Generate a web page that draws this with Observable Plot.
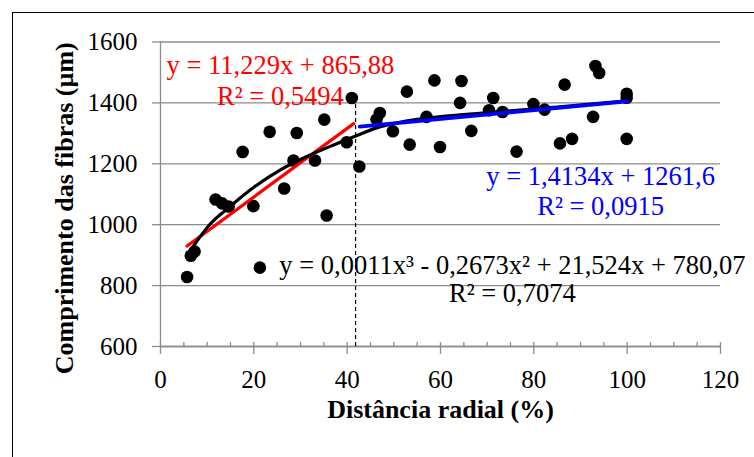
<!DOCTYPE html>
<html><head><meta charset="utf-8">
<script src="https://cdn.jsdelivr.net/npm/d3@7"></script>
<script src="https://cdn.jsdelivr.net/npm/@observablehq/plot@0.6"></script>
<style>
html,body{margin:0;padding:0;background:#fff;overflow:hidden;}
#wrap{position:relative;width:754px;height:457px;}
#wrap svg{position:absolute;left:0;top:0;font-family:"Liberation Serif","Times New Roman",serif !important;}
#wrap svg text{font-family:"Liberation Serif","Times New Roman",serif !important;}
#border{position:absolute;left:12px;top:12px;width:800px;height:500px;border:1.3px solid #000;box-sizing:border-box;pointer-events:none;}
</style></head><body><div id="wrap"><div id="border"></div></div>
<script>
// Data
const distX = [5.7, 6.5, 7.3, 11.8, 13.2, 14.6, 17.6, 19.9, 21.3, 23.4, 26.5, 28.5, 29.2, 33.1, 35.1, 35.6, 39.9, 41.0, 42.6, 46.3, 47.0, 49.8, 52.8, 53.4, 57.0, 58.7, 59.9, 64.2, 64.5, 66.6, 70.4, 71.3, 73.3, 76.3, 79.9, 82.3, 85.6, 86.6, 88.2, 92.7, 93.2, 94.0, 99.9, 99.9, 99.9];
const lenY  = [828, 898, 912, 1083, 1070, 1060, 1239, 1061, 859, 1305, 1119, 1211, 1301, 1211, 1345, 1030, 1271, 1416, 1191, 1346, 1367, 1307, 1437, 1263, 1354, 1474, 1255, 1400, 1472, 1308, 1376, 1416, 1370, 1240, 1396, 1378, 1267, 1460, 1282, 1354, 1521, 1498, 1430, 1417, 1282];

// Trend lines
const redX = [5.7, 41.4];
const redY = [930, 1332];
const blueX = [42.7, 100];
const blueY = [1322, 1405];
const polyX = [6.4, 10.7, 14.3, 20, 25.7, 31.4, 37.1, 42.9, 47.1, 55, 65, 75, 85, 100];
const polyY = [915, 1003, 1052, 1123, 1180, 1224, 1262, 1298, 1322, 1346, 1362, 1374, 1386, 1407];
const splitX = [41.8];

// Labels
const eqRed = ["y = 11,229x + 865,88", "R² = 0,5494"];
const eqBlue = ["y = 1,4134x + 1261,6", "R² = 0,0915"];
const eqPoly = ["y = 0,0011x³ - 0,2673x² + 21,524x + 780,07", "R² = 0,7074"];
const xTitle = "Distância radial (%)";
const yTitle = "Comprimento das fibras (µm)";
const xTicks = [0, 20, 40, 60, 80, 100, 120];
const xMinor = d3.range(0, 121, 5);
const yTicks = [600, 800, 1000, 1200, 1400, 1600];

const pts = distX.map((x, i) => ({x, y: lenY[i]}));
const red = redX.map((x, i) => ({x, y: redY[i]}));
const blue = blueX.map((x, i) => ({x, y: blueY[i]}));
const poly = polyX.map((x, i) => ({x, y: polyY[i]}));

const serif = "Liberation Serif";
const gray = "#8c8c8c";
const chart = Plot.plot({
  width: 754, height: 457,
  marginLeft: 160, marginRight: 34, marginTop: 41.5, marginBottom: 111,
  style: "font-family: 'Liberation Serif', serif; font-size: 25px; background: transparent; overflow: visible;",
  x: {domain: [0, 120], label: null},
  y: {domain: [600, 1600], label: null},
  marks: [
    Plot.gridY(yTicks, {stroke: gray, strokeOpacity: 1, strokeWidth: 1.3}),
    Plot.ruleX([0], {stroke: gray, strokeWidth: 1.3}),
    Plot.ruleY([600], {stroke: gray, strokeWidth: 1.3}),
    Plot.ruleX(xMinor, {x: d => d, y1: 600, y2: 613, stroke: gray, strokeWidth: 1.3}),
    Plot.axisX(xTicks, {tickSize: 8, tickPadding: 16, stroke: gray, strokeWidth: 1.3, fill: "black", fontSize: 25, fontFamily: serif, tickFormat: d => String(d), label: null}),
    Plot.axisY(yTicks, {tickSize: 8, tickPadding: 15, stroke: gray, strokeWidth: 1.3, fill: "black", fontSize: 25, fontFamily: serif, tickFormat: d => String(d), label: null}),
    Plot.dot(pts, {x: "x", y: "y", r: 6.3, fill: "black", stroke: "none"}),
    Plot.line(red, {x: "x", y: "y", stroke: "#ff0000", strokeWidth: 3.2}),
    Plot.line(poly, {x: "x", y: "y", stroke: "black", strokeWidth: 3.2, curve: "catmull-rom"}),
    Plot.line(blue, {x: "x", y: "y", stroke: "#0000ff", strokeWidth: 3.8}),
    Plot.ruleX(splitX, {x: d => d, y1: 600, y2: 1410, stroke: "black", strokeWidth: 1.2, strokeDasharray: "4,3"}),
    Plot.text([eqRed.join("\n")], {x: 25.7, y: 1567, lineAnchor: "top", textAnchor: "middle", fill: "#ff0000", fontSize: 26.5, fontFamily: serif, lineHeight: 1.17}),
    Plot.text([eqBlue.join("\n")], {x: 94.3, y: 1199, lineAnchor: "top", textAnchor: "middle", fill: "#0000ff", fontSize: 26.5, fontFamily: serif, lineHeight: 1.13}),
    Plot.text([eqPoly.join("\n")], {x: 75.4, y: 905, lineAnchor: "top", textAnchor: "middle", fill: "black", fontSize: 26.5, fontFamily: serif, lineHeight: 1.07}),
    Plot.text([xTitle], {frameAnchor: "bottom", textAnchor: "middle", lineAnchor: "top", dy: 53.5, fontWeight: "bold", fontSize: 26, fontFamily: serif, fill: "black"}),
    Plot.text([yTitle], {frameAnchor: "left", textAnchor: "middle", rotate: -90, dx: -96, dy: 14, fontWeight: "bold", fontSize: 26, fontFamily: serif, fill: "black"})
  ]
});
document.getElementById("wrap").prepend(chart);
</script>
</body></html>
